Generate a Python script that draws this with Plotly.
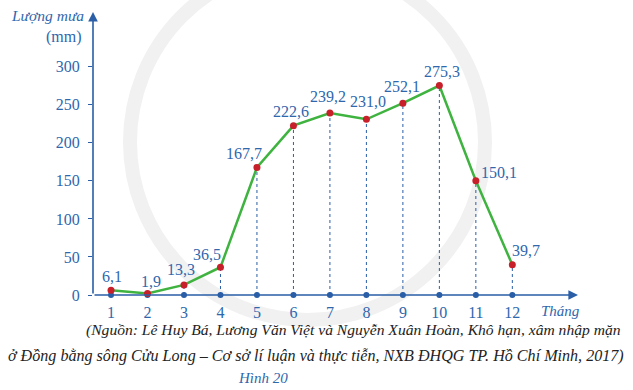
import plotly.graph_objects as go

months = [1, 2, 3, 4, 5, 6, 7, 8, 9, 10, 11, 12]
rain = [6.1, 1.9, 13.3, 36.5, 167.7, 222.6, 239.2, 231.0, 252.1, 275.3, 150.1, 39.7]
labels = ["6,1", "1,9", "13,3", "36,5", "167,7", "222,6", "239,2", "231,0", "252,1", "275,3", "150,1", "39,7"]
y_ticks = [0, 50, 100, 150, 200, 250, 300]

BLUE = "#2f67ad"
AXIS = "#2a5ea6"
GREEN = "#3fb33f"
RED = "#c8202a"
SERIF = "Liberation Serif, Times New Roman, DejaVu Serif, serif"

# per-label pixel offsets (style)
label_dx = [1, 3, -3, -13, -13, -2, -2, 2, -1, 3, 23, 14]
label_dy = [14, 12, 15, 13, 14, 14, 17, 18, 17, 14, 8, 14]

ML, MR, MT, MB = 93, 55, 12, 95
W, H = 633, 390
plot_w = W - ML - MR
plot_h = H - MT - MB


def px_to_paper(px, py):
    return (px - ML) / plot_w, (H - MB - py) / plot_h


fig = go.Figure()

# dashed drop lines
dx, dy = [], []
for m, v in zip(months, rain):
    dx += [m, m, None]
    dy += [0, v, None]
fig.add_trace(go.Scatter(x=dx, y=dy, mode="lines",
                         line=dict(color=AXIS, width=1, dash="3px,3px"),
                         hoverinfo="skip", showlegend=False, cliponaxis=False))

# dots on x axis
fig.add_trace(go.Scatter(x=months, y=[0] * len(months), mode="markers",
                         marker=dict(color=AXIS, size=6), showlegend=False, cliponaxis=False))

# main line
fig.add_trace(go.Scatter(x=months, y=rain, mode="lines+markers",
                         line=dict(color=GREEN, width=2.5),
                         marker=dict(color=RED, size=7),
                         showlegend=False, cliponaxis=False))

fig.update_layout(
    width=W, height=H,
    margin=dict(l=ML, r=MR, t=MT, b=MB, autoexpand=False),
    paper_bgcolor="white", plot_bgcolor="white",
    xaxis=dict(range=[0.506, 13.8], tickvals=months, ticktext=[str(m) for m in months],
               showgrid=False, zeroline=False, showline=False, ticks="",
               tickfont=dict(family=SERIF, size=16, color=BLUE), ticklabelstandoff=6),
    yaxis=dict(range=[0, 372], tickvals=y_ticks, ticktext=[str(t) for t in y_ticks],
               showgrid=False, zeroline=False, showline=False,
               ticks="outside", ticklen=4, tickcolor=AXIS, tickwidth=1, ticklabelstandoff=5,
               tickfont=dict(family=SERIF, size=16, color=BLUE)),
    font=dict(family=SERIF),
)

# faint watermark ring
x0, y1 = px_to_paper(130, -36)
x1, y0 = px_to_paper(485, 320)
fig.add_shape(type="circle", xref="paper", yref="paper", x0=x0, x1=x1, y0=y0, y1=y1,
              line=dict(color="#f1f1f1", width=14), layer="below")

# data labels
for m, v, t, ox, oy in zip(months, rain, labels, label_dx, label_dy):
    fig.add_annotation(x=m, y=v, xref="x", yref="y", text=t, showarrow=False,
                       xanchor="center", yanchor="middle", xshift=ox, yshift=oy,
                       font=dict(family=SERIF, size=16, color=BLUE))

# axis arrows
fig.add_annotation(x=0, y=1, xref="paper", yref="paper", ax=0, ay=plot_h, axref="pixel", ayref="pixel",
                   showarrow=True, arrowhead=2, arrowsize=1.2, arrowwidth=1.6, arrowcolor=AXIS, text="")
fig.add_annotation(x=1, y=0, xref="paper", yref="paper", ax=-plot_w, ay=0, axref="pixel", ayref="pixel",
                   showarrow=True, arrowhead=2, arrowsize=1.2, arrowwidth=1.6, arrowcolor=AXIS, text="")

xp, yp = px_to_paper(86, 16)
fig.add_annotation(x=xp, y=yp, xref="paper", yref="paper", xanchor="right", yanchor="middle",
                   text="<i>Lượng mưa</i>", showarrow=False, font=dict(family=SERIF, size=15.5, color=BLUE))
xp, yp = px_to_paper(84, 37)
fig.add_annotation(x=xp, y=yp, xref="paper", yref="paper", xanchor="right", yanchor="middle",
                   text="(mm)", showarrow=False, font=dict(family=SERIF, size=16, color=BLUE))
xp, yp = px_to_paper(539, 311)
fig.add_annotation(x=xp, y=yp, xref="paper", yref="paper", xanchor="left", yanchor="middle",
                   text="<i>Tháng</i>", showarrow=False, font=dict(family=SERIF, size=15, color=BLUE))

cap1 = "<i>(Nguồn: Lê Huy Bá, Lương Văn Việt và Nguyễn Xuân Hoàn, Khô hạn, xâm nhập mặn</i>"
cap2 = "<i>ở Đồng bằng sông Cửu Long – Cơ sở lí luận và thực tiễn, NXB ĐHQG TP. Hồ Chí Minh, 2017)</i>"

xp, yp = px_to_paper(623, 330)
fig.add_annotation(x=xp, y=yp, xref="paper", yref="paper", xanchor="right", yanchor="middle",
                   text=cap1, showarrow=False, font=dict(family=SERIF, size=15.6, color="#222222"))
xp, yp = px_to_paper(626, 356)
fig.add_annotation(x=xp, y=yp, xref="paper", yref="paper", xanchor="right", yanchor="middle",
                   text=cap2, showarrow=False, font=dict(family=SERIF, size=16.1, color="#222222"))
xp, yp = px_to_paper(263, 378)
fig.add_annotation(x=xp, y=yp, xref="paper", yref="paper", xanchor="center", yanchor="middle",
                   text="<i>Hình 20</i>", showarrow=False, font=dict(family=SERIF, size=15, color=BLUE))

fig.write_html("out.html", config={"displayModeBar": False},
               post_script="document.body.style.margin='0';document.body.style.overflow='hidden';")
